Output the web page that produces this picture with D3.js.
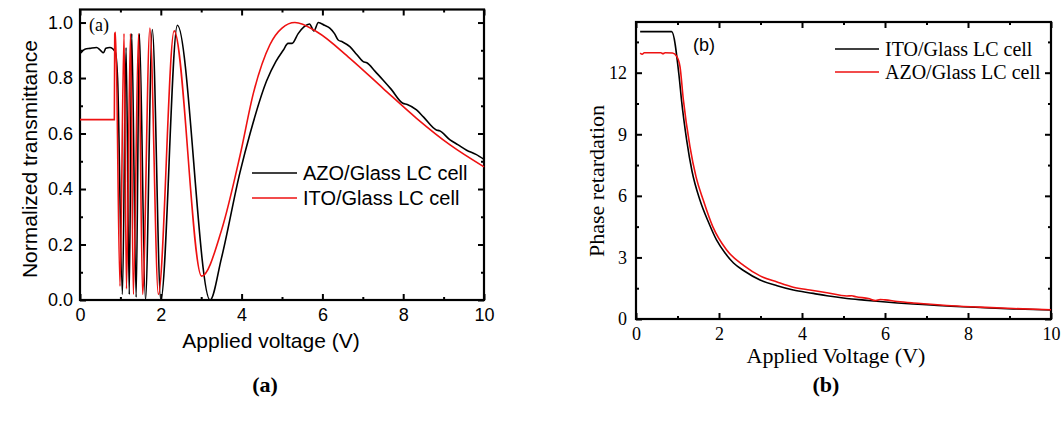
<!DOCTYPE html>
<html>
<head>
<meta charset="utf-8">
<script src="https://cdn.jsdelivr.net/npm/d3@7/dist/d3.min.js"></script>
<style>
    body { margin: 0; background: #fff; }
    svg { display: block; }
</style>
</head>
<body>
<script>
// panel (a) - normalized transmittance
var azoVoltA = [0.02, 0.12, 0.25, 0.41, 0.5, 0.58, 0.64, 0.74, 0.87, 0.93, 1.05, 1.14, 1.22, 1.28, 1.39, 1.47, 1.62, 1.79, 2.0, 2.41, 3.22, 3.5, 3.96, 4.21, 4.62, 4.85, 5.03, 5.15, 5.25, 5.4, 5.55, 5.68, 5.79, 5.9, 6.05, 6.19, 6.3, 6.39, 6.5, 6.68, 6.85, 7.01, 7.1, 7.3, 7.5, 7.7, 7.99, 8.1, 8.33, 8.5, 8.82, 8.9, 9.16, 9.35, 9.57, 9.8, 10.0];
var azoTransA = [0.89, 0.904, 0.907, 0.91, 0.901, 0.891, 0.907, 0.91, 0.895, 0.8, 0.02, 0.91, 0.02, 0.96, 0.01, 0.96, 0.0, 0.975, 0.0, 0.99, 0.0, 0.15, 0.46, 0.6, 0.79, 0.86, 0.9, 0.925, 0.925, 0.96, 0.985, 0.995, 0.97, 1.0, 0.99, 0.979, 0.96, 0.937, 0.93, 0.913, 0.885, 0.859, 0.855, 0.825, 0.793, 0.76, 0.709, 0.705, 0.685, 0.66, 0.613, 0.61, 0.577, 0.56, 0.54, 0.525, 0.507];
var itoVoltA = [0.0, 0.85, 0.86, 0.88, 0.99, 1.09, 1.15, 1.25, 1.32, 1.45, 1.55, 1.73, 1.94, 2.33, 3.01, 3.5, 3.96, 4.3, 4.7, 5.0, 5.32, 5.86, 6.68, 7.5, 8.33, 9.16, 10.0];
var itoTransA = [0.65, 0.65, 0.96, 0.965, 0.05, 0.96, 0.04, 0.96, 0.02, 0.96, 0.02, 0.98, 0.02, 0.97, 0.086, 0.25, 0.52, 0.75, 0.92, 0.98, 1.0, 0.967, 0.871, 0.763, 0.655, 0.559, 0.48];

// panel (b) - phase retardation
var itoVoltB = [0.1, 0.86, 1.04, 1.1, 1.22, 1.35, 1.54, 1.75, 1.94, 2.15, 2.35, 2.6, 2.99, 3.4, 3.79, 4.27, 4.6, 5.08, 5.5, 5.88, 6.3, 6.68, 7.1, 7.49, 8.29, 9.09, 10.0];
var itoPhaseB = [14.0, 14.0, 11.8, 10.6, 8.73, 7.2, 5.8, 4.7, 3.85, 3.2, 2.73, 2.35, 1.9, 1.62, 1.41, 1.25, 1.13, 1.0, 0.92, 0.85, 0.78, 0.73, 0.68, 0.63, 0.56, 0.49, 0.44];
var azoVoltB = [0.1, 0.15, 0.2, 0.6, 0.65, 0.7, 0.88, 0.98, 1.06, 1.14, 1.3, 1.45, 1.62, 1.85, 2.18, 2.6, 2.99, 3.4, 3.79, 4.19, 4.6, 5.08, 5.2, 5.3, 5.6, 5.78, 5.88, 6.0, 6.3, 6.68, 7.1, 7.49, 8.29, 9.09, 10.0];
var azoPhaseB = [12.95, 12.9, 12.97, 12.97, 12.93, 12.97, 12.96, 12.8, 12.3, 10.7, 8.4, 6.9, 5.8, 4.5, 3.37, 2.6, 2.1, 1.8, 1.55, 1.41, 1.28, 1.12, 1.13, 1.08, 1.0, 0.9, 0.95, 0.93, 0.85, 0.78, 0.72, 0.66, 0.58, 0.51, 0.45];

// ticks
var voltTicks = [0, 2, 4, 6, 8, 10];
var voltMinor = [1, 3, 5, 7, 9];
var transTicks = [0, 0.2, 0.4, 0.6, 0.8, 1.0];
var transMinor = [0.1, 0.3, 0.5, 0.7, 0.9];
var phaseTicks = [0, 3, 6, 9, 12];
var phaseMinor = [1.5, 4.5, 7.5, 10.5, 13.5];

var legendA = ["AZO/Glass LC cell", "ITO/Glass LC cell"];
var legendB = ["ITO/Glass LC cell", "AZO/Glass LC cell"];

var RED = "#ee1111";
var SANS = "'Liberation Sans', Arial, sans-serif";
var SERIF = "'Liberation Serif', 'Times New Roman', serif";

window.onload = function(){
    var svg = d3.select("body")
        .append("svg")
        .attr("width", 1062)
        .attr("height", 424);

    // (a)
    var xA = d3.scaleLinear().domain([0, 10]).range([80, 484]);
    var yA = d3.scaleLinear().domain([0, 1.047]).range([300, 9.5]);

    drawFrame(svg, xA, yA, {
        xTicks: voltTicks, xMinor: voltMinor,
        yTicks: transTicks, yMinor: transMinor,
        yFormat: d3.format(".1f"),
        font: SANS, tickFont: 18,
        xPad: 8, yPad: 7
    });

    drawSeries(svg, xA, yA, azoVoltA, azoTransA, "#000");
    drawSeries(svg, xA, yA, itoVoltA, itoTransA, RED);

    svg.append("text")
        .attr("x", 89).attr("y", 31)
        .attr("font-family", SERIF).attr("font-size", 18)
        .text("(a)");

    svg.append("text")
        .attr("x", 271).attr("y", 348)
        .attr("text-anchor", "middle")
        .attr("font-family", SANS).attr("font-size", 21)
        .text("Applied voltage (V)");

    svg.append("text")
        .attr("transform", "translate(37,159) rotate(-90)")
        .attr("text-anchor", "middle")
        .attr("font-family", SANS).attr("font-size", 21)
        .text("Normalized transmittance");

    drawLegend(svg, legendA, ["#000", RED], 252, 297, 173, 25, SANS, 20);

    // (b)
    var xB = d3.scaleLinear().domain([0, 10]).range([636, 1051]);
    var yB = d3.scaleLinear().domain([0, 14.47]).range([319, 22]);

    drawFrame(svg, xB, yB, {
        xTicks: voltTicks, xMinor: voltMinor,
        yTicks: phaseTicks, yMinor: phaseMinor,
        yFormat: d3.format("d"),
        font: SERIF, tickFont: 18,
        xPad: 8, yPad: 9
    });

    drawSeries(svg, xB, yB, itoVoltB, itoPhaseB, "#000");
    drawSeries(svg, xB, yB, azoVoltB, azoPhaseB, RED);

    svg.append("text")
        .attr("x", 693).attr("y", 51)
        .attr("font-family", SANS).attr("font-size", 18)
        .text("(b)");

    svg.append("text")
        .attr("x", 836).attr("y", 363)
        .attr("text-anchor", "middle")
        .attr("font-family", SERIF).attr("font-size", 22)
        .text("Applied Voltage (V)");

    svg.append("text")
        .attr("transform", "translate(604,181) rotate(-90)")
        .attr("text-anchor", "middle")
        .attr("font-family", SERIF).attr("font-size", 22)
        .text("Phase retardation");

    drawLegend(svg, legendB, ["#000", RED], 835, 879, 49, 23, SERIF, 20);

    // captions
    svg.append("text")
        .attr("x", 265).attr("y", 392)
        .attr("text-anchor", "middle")
        .attr("font-family", SERIF).attr("font-weight", "bold").attr("font-size", 22)
        .text("(a)");

    svg.append("text")
        .attr("x", 826).attr("y", 392)
        .attr("text-anchor", "middle")
        .attr("font-family", SERIF).attr("font-weight", "bold").attr("font-size", 22)
        .text("(b)");
};

function drawFrame(svg, x, y, o){
    var left = x.range()[0], right = x.range()[1],
        bottom = y.range()[0], top = y.range()[1];

    // major ticks, all inward, labels only bottom/left
    var bottomAxis = svg.append("g")
        .attr("transform", "translate(0," + bottom + ")")
        .call(d3.axisBottom(x).tickValues(o.xTicks).tickSizeInner(-6).tickSizeOuter(0).tickPadding(o.xPad));
    var leftAxis = svg.append("g")
        .attr("transform", "translate(" + left + ",0)")
        .call(d3.axisLeft(y).tickValues(o.yTicks).tickFormat(o.yFormat).tickSizeInner(-6).tickSizeOuter(0).tickPadding(o.yPad));
    svg.append("g")
        .attr("transform", "translate(0," + top + ")")
        .call(d3.axisTop(x).tickValues(o.xTicks).tickFormat("").tickSizeInner(-6).tickSizeOuter(0));
    svg.append("g")
        .attr("transform", "translate(" + right + ",0)")
        .call(d3.axisRight(y).tickValues(o.yTicks).tickFormat("").tickSizeInner(-6).tickSizeOuter(0));

    // minor ticks
    svg.append("g")
        .attr("transform", "translate(0," + bottom + ")")
        .call(d3.axisBottom(x).tickValues(o.xMinor).tickFormat("").tickSizeInner(-3).tickSizeOuter(0));
    svg.append("g")
        .attr("transform", "translate(0," + top + ")")
        .call(d3.axisTop(x).tickValues(o.xMinor).tickFormat("").tickSizeInner(-3).tickSizeOuter(0));
    svg.append("g")
        .attr("transform", "translate(" + left + ",0)")
        .call(d3.axisLeft(y).tickValues(o.yMinor).tickFormat("").tickSizeInner(-3).tickSizeOuter(0));
    svg.append("g")
        .attr("transform", "translate(" + right + ",0)")
        .call(d3.axisRight(y).tickValues(o.yMinor).tickFormat("").tickSizeInner(-3).tickSizeOuter(0));

    svg.selectAll(".domain").remove();
    svg.selectAll(".tick line").attr("stroke-width", 2).attr("stroke", "#000");

    [bottomAxis, leftAxis].forEach(function(g){
        g.attr("font-family", o.font).attr("font-size", o.tickFont);
        g.selectAll("text").attr("fill", "#000");
    });

    svg.append("rect")
        .attr("x", left).attr("y", top)
        .attr("width", right - left).attr("height", bottom - top)
        .attr("fill", "none")
        .attr("stroke", "#000")
        .attr("stroke-width", 2.2);
}

function drawSeries(svg, x, y, xs, ys, color){
    var pts = xs.map(function(v, i){ return [v, ys[i]]; });
    var line = d3.line()
        .x(function(d){ return x(d[0]); })
        .y(function(d){ return y(d[1]); })
        .curve(d3.curveMonotoneX);

    svg.append("path")
        .datum(pts)
        .attr("d", line)
        .attr("fill", "none")
        .attr("stroke", color)
        .attr("stroke-width", 1.6);
}

function drawLegend(svg, names, colors, x0, x1, y0, step, font, size){
    names.forEach(function(name, i){
        var yy = y0 + i * step;
        svg.append("line")
            .attr("x1", x0).attr("x2", x1)
            .attr("y1", yy).attr("y2", yy)
            .attr("stroke", colors[i])
            .attr("stroke-width", 1.6);
        svg.append("text")
            .attr("x", x1 + 6).attr("y", yy)
            .attr("dy", "0.35em")
            .attr("font-family", font).attr("font-size", size)
            .text(name);
    });
}
</script>
</body>
</html>
